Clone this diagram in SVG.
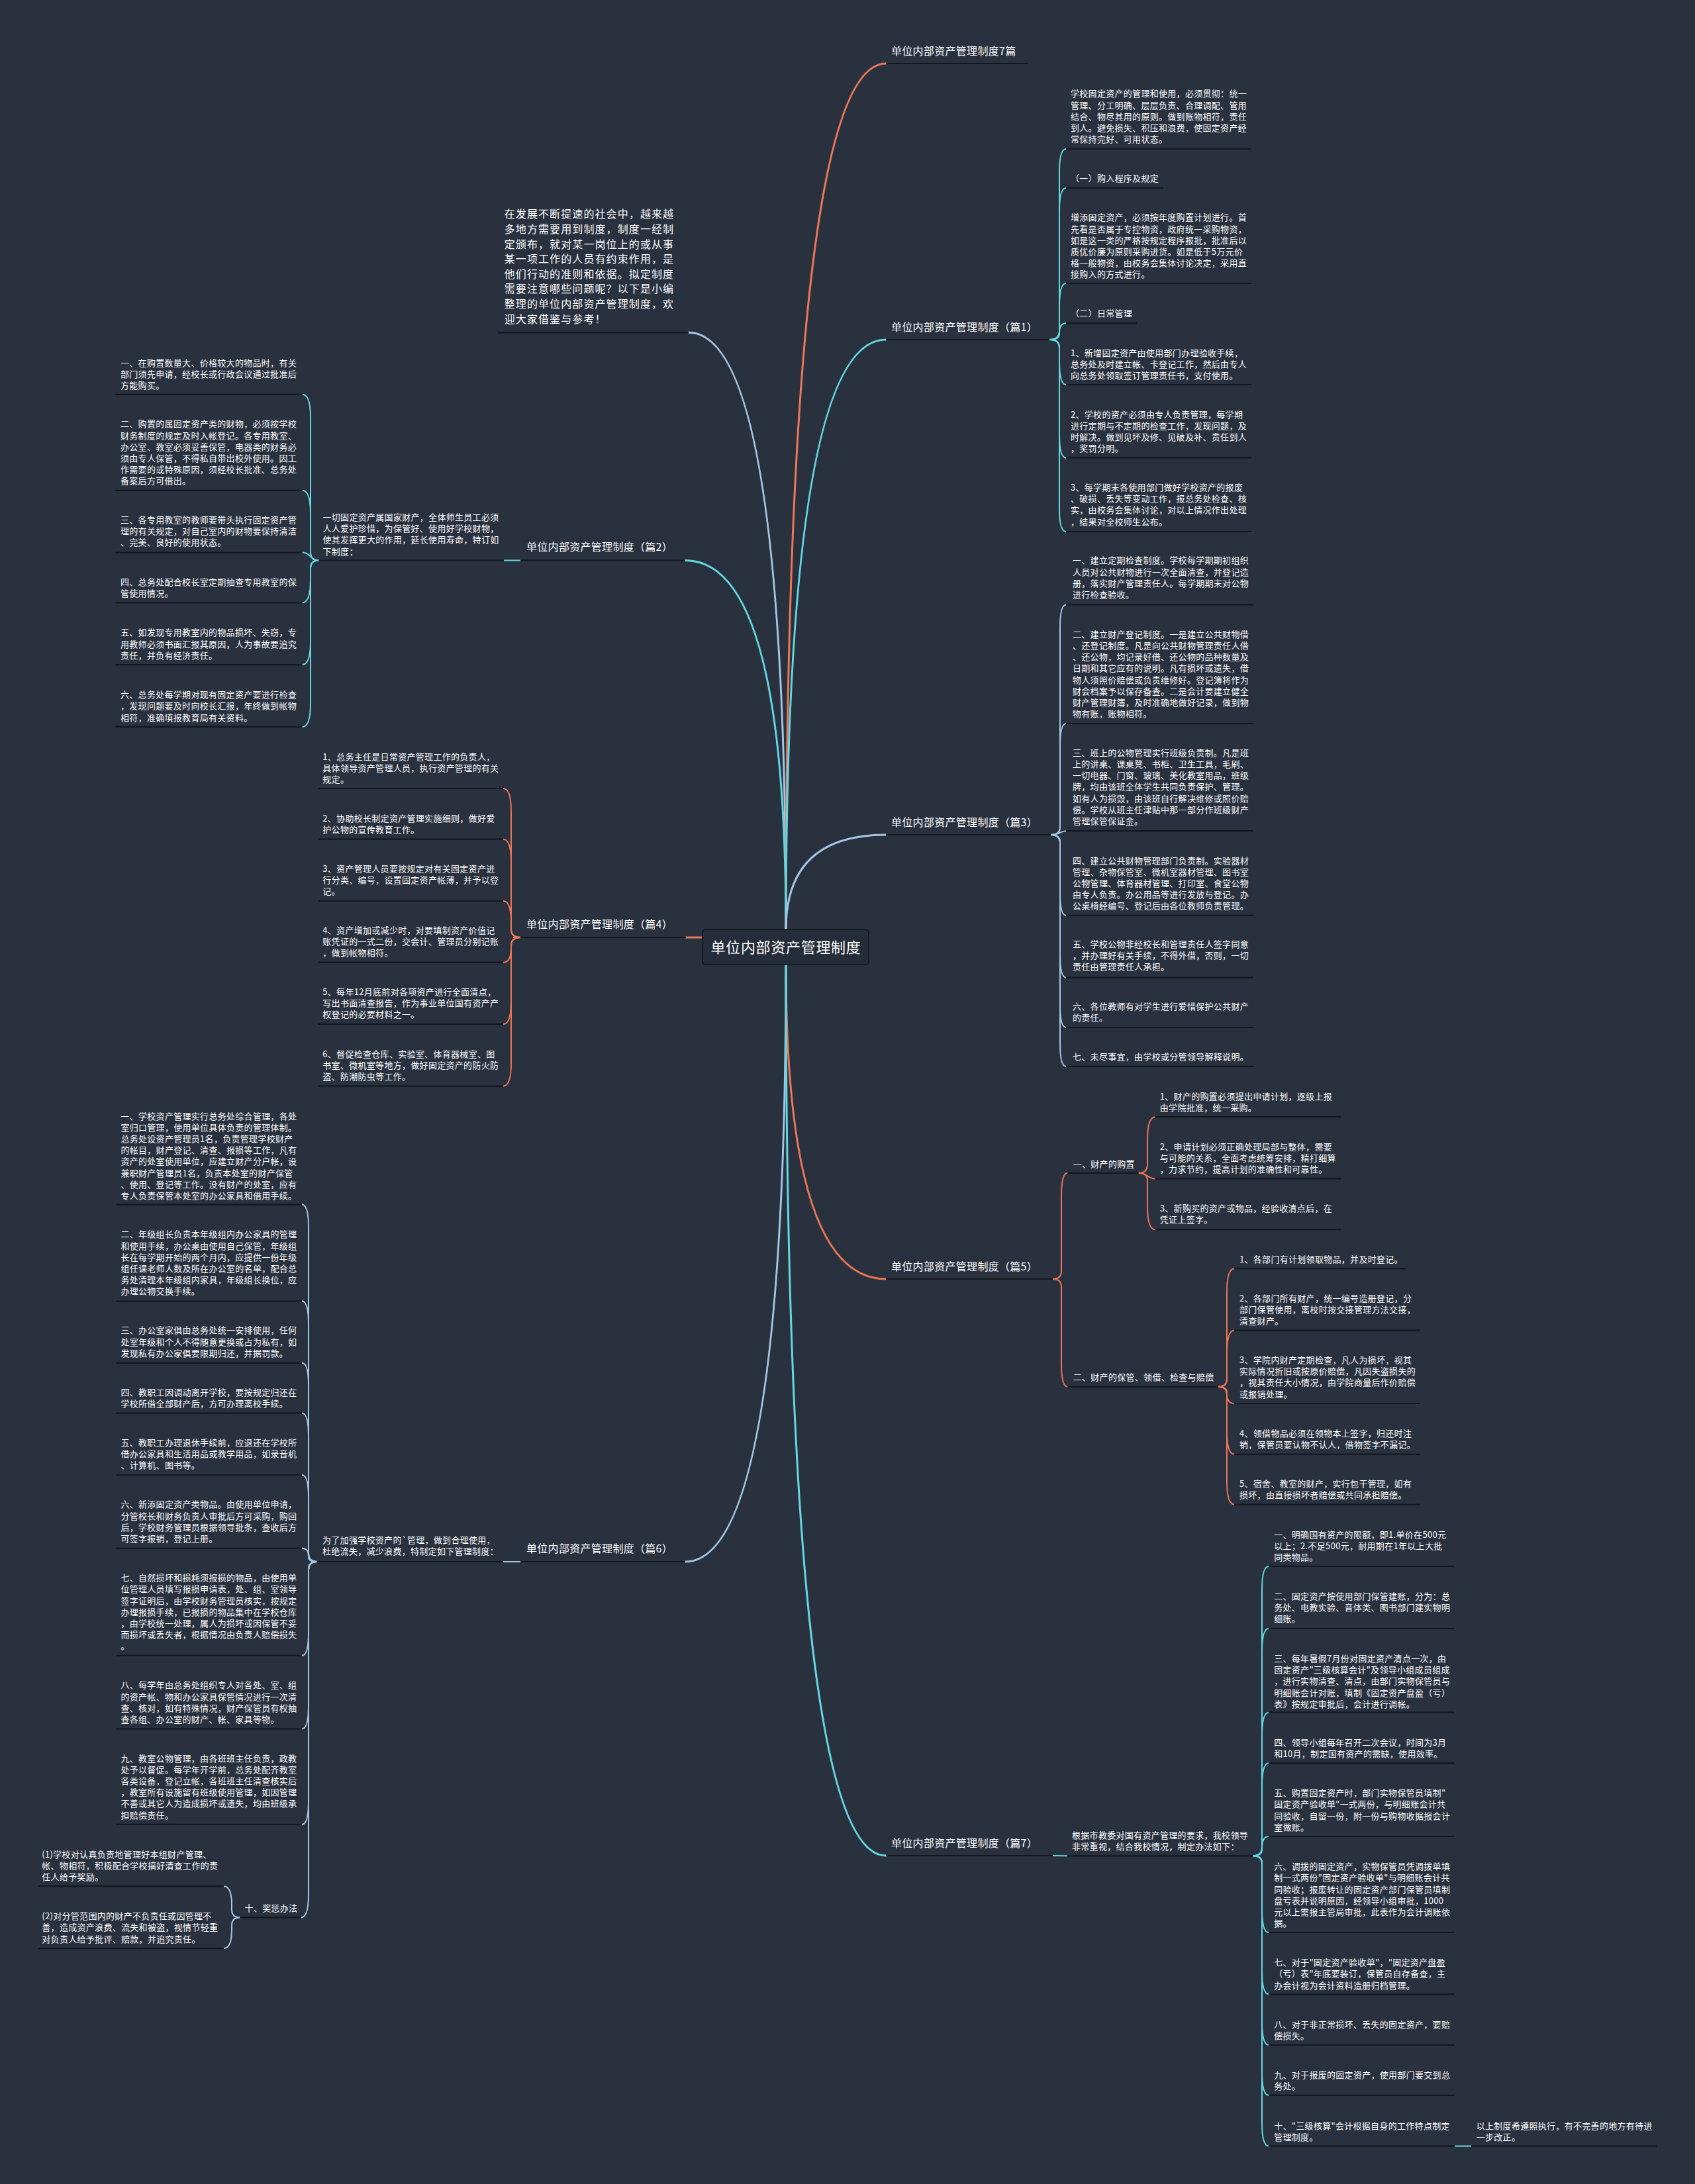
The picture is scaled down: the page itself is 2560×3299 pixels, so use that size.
<svg xmlns="http://www.w3.org/2000/svg" width="2560" height="3299" viewBox="0 0 2560 3299">
<style>
text{font-family:"Noto Sans CJK SC","Noto Sans",sans-serif;fill:#ffffff}
.t{font-size:13px;letter-spacing:0.3px}
.b{font-size:16px;letter-spacing:0.3px}
.i{font-size:16px;letter-spacing:1.1px}
.r{font-size:22px;letter-spacing:0.7px}
.ul{stroke:#14181e;stroke-width:2.2;fill:none}
.k{fill:none;stroke-width:2}
.m{fill:none;stroke-width:3;stroke-linecap:round}
.cc{stroke:#62d8e2}
.co{stroke:#ec7656}
.cb{stroke:#a3c6e6}
</style>
<rect x="0" y="0" width="2560" height="3299" fill="#29313f"/>

<g id="connectors">
<path class="m cb" d="M1040 502.3 Q1187 502.3 1187 1404"/>
<path class="m cc" d="M1035 846.5 Q1187 846.5 1187 1404"/>
<path class="m co" d="M1187 1404 Q1187 96 1338 96"/>
<path class="m cc" d="M1187 1404 Q1187 513 1338 513"/>
<path class="m cb" d="M1187 1404 Q1187 1261 1338 1261"/>
<path class="m co" d="M1036 1416 L1061 1416"/>
<path class="m co" d="M1187 1457 Q1187 1932 1338 1932"/>
<path class="m cb" d="M1035 2359 Q1187 2359 1187 1457"/>
<path class="m cc" d="M1187 1457 Q1187 2803 1338 2803"/>

<g class="k cc">
<path d="M1585 513 Q1600 513 1600 501 L1600 260 Q1600 225 1610 225"/>
<path d="M1585 513 Q1600 513 1600 501 L1600 319 Q1600 284 1610 284"/>
<path d="M1585 513 Q1600 513 1600 501 L1600 463 Q1600 428 1610 428"/>
<path d="M1585 513 Q1600 513 1600 504.8 L1600 503.1 Q1600 488.3 1610 488.3"/>
<path d="M1585 513 Q1600 513 1600 525 L1600 546 Q1600 581 1610 581"/>
<path d="M1585 513 Q1600 513 1600 525 L1600 656.4 Q1600 691.4 1610 691.4"/>
<path d="M1585 513 Q1600 513 1600 525 L1600 768 Q1600 803 1610 803"/>
</g>
<g class="k cb">
<path d="M1587 1261 Q1601 1261 1601 1249 L1601 948.4 Q1601 913.4 1610 913.4"/>
<path d="M1587 1261 Q1601 1261 1601 1249 L1601 1128 Q1601 1093 1610 1093"/>
<path d="M1587 1261 C1601 1261 1601 1255.2 1610 1255.2"/>
<path d="M1587 1261 Q1601 1261 1601 1273 L1601 1347.8 Q1601 1382.8 1610 1382.8"/>
<path d="M1587 1261 Q1601 1261 1601 1273 L1601 1441.6 Q1601 1476.6 1610 1476.6"/>
<path d="M1587 1261 Q1601 1261 1601 1273 L1601 1517 Q1601 1552 1610 1552"/>
<path d="M1587 1261 Q1601 1261 1601 1273 L1601 1575.8 Q1601 1610.8 1610 1610.8"/>
</g>
<g class="k co">
<path d="M1590 1932 Q1603 1932 1603 1920 L1603 1806.8 Q1603 1771.8 1612.5 1771.8"/>
<path d="M1590 1932 Q1603 1932 1603 1944 L1603 2059.8 Q1603 2094.8 1612.5 2094.8"/>
<path d="M1719.6 1771.8 Q1733 1771.8 1733 1759.8 L1733 1722.2 Q1733 1687.2 1744.6 1687.2"/>
<path d="M1719.6 1771.8 C1733 1771.8 1733 1780.4 1744.6 1780.4"/>
<path d="M1719.6 1771.8 Q1733 1771.8 1733 1783.8 L1733 1822.2 Q1733 1857.2 1744.6 1857.2"/>
<path d="M1840 2094.8 Q1853 2094.8 1853 2082.8 L1853 1951.2 Q1853 1916.2 1864.3 1916.2"/>
<path d="M1840 2094.8 Q1853 2094.8 1853 2082.8 L1853 2044.4 Q1853 2009.4 1864.3 2009.4"/>
<path d="M1840 2094.8 Q1853 2094.8 1853 2103.2 L1853 2104.9 Q1853 2120 1864.3 2120"/>
<path d="M1840 2094.8 Q1853 2094.8 1853 2106.8 L1853 2161.8 Q1853 2196.8 1864.3 2196.8"/>
<path d="M1840 2094.8 Q1853 2094.8 1853 2106.8 L1853 2237.6 Q1853 2272.6 1864.3 2272.6"/>
</g>
<g class="k cc">
<path d="M1590 2803 L1612 2803.3"/>
<path d="M1892.6 2803.3 Q1906 2803.3 1906 2791.3 L1906 2401 Q1906 2366 1916.3 2366"/>
<path d="M1892.6 2803.3 Q1906 2803.3 1906 2791.3 L1906 2495 Q1906 2460 1916.3 2460"/>
<path d="M1892.6 2803.3 Q1906 2803.3 1906 2791.3 L1906 2621.7 Q1906 2586.7 1916.3 2586.7"/>
<path d="M1892.6 2803.3 Q1906 2803.3 1906 2791.3 L1906 2698.3 Q1906 2663.3 1916.3 2663.3"/>
<path d="M1892.6 2803.3 Q1906 2803.3 1906 2793.5 L1906 2791.6 Q1906 2774 1916.3 2774"/>
<path d="M1892.6 2803.3 Q1906 2803.3 1906 2815.3 L1906 2884 Q1906 2919 1916.3 2919"/>
<path d="M1892.6 2803.3 Q1906 2803.3 1906 2815.3 L1906 2977.3 Q1906 3012.3 1916.3 3012.3"/>
<path d="M1892.6 2803.3 Q1906 2803.3 1906 2815.3 L1906 3054 Q1906 3089 1916.3 3089"/>
<path d="M1892.6 2803.3 Q1906 2803.3 1906 2815.3 L1906 3130 Q1906 3165 1916.3 3165"/>
<path d="M1892.6 2803.3 Q1906 2803.3 1906 2815.3 L1906 3206.7 Q1906 3241.7 1916.3 3241.7"/>
<path d="M2197 3241.7 L2222 3241.7"/>
</g>
<g class="k cc">
<path d="M786 846.5 L761 846.5"/>
<path d="M481.3 846.5 Q469 846.5 469 834.5 L469 630.8 Q469 595.8 456.4 595.8"/>
<path d="M481.3 846.5 Q469 846.5 469 834.5 L469 775.8 Q469 740.8 456.4 740.8"/>
<path d="M481.3 846.5 C469 846.5 469 834.6 456.4 834.6"/>
<path d="M481.3 846.5 Q469 846.5 469 858.5 L469 875.4 Q469 910.4 456.4 910.4"/>
<path d="M481.3 846.5 Q469 846.5 469 858.5 L469 969.1 Q469 1004.1 456.4 1004.1"/>
<path d="M481.3 846.5 Q469 846.5 469 858.5 L469 1062.9 Q469 1097.9 456.4 1097.9"/>
</g>
<g class="k co">
<path d="M786 1416 L775 1416"/>
<path d="M787 1416 Q772 1416 772 1404 L772 1226 Q772 1191 760 1191"/>
<path d="M787 1416 Q772 1416 772 1404 L772 1302.7 Q772 1267.7 760 1267.7"/>
<path d="M787 1416 Q772 1416 772 1404 L772 1394.3 Q772 1361 760 1361"/>
<path d="M787 1416 Q772 1416 772 1428 L772 1431.4 Q772 1453.7 760 1453.7"/>
<path d="M787 1416 Q772 1416 772 1428 L772 1512 Q772 1547 760 1547"/>
<path d="M787 1416 Q772 1416 772 1428 L772 1605.6 Q772 1640.6 760 1640.6"/>
</g>
<g class="k cb">
<path d="M786 2359 L759.8 2359"/>
<path d="M478.7 2359 Q466 2359 466 2347 L466 1854.6 Q466 1819.6 456 1819.6"/>
<path d="M478.7 2359 Q466 2359 466 2347 L466 2000.6 Q466 1965.6 456 1965.6"/>
<path d="M478.7 2359 Q466 2359 466 2347 L466 2093.8 Q466 2058.8 456 2058.8"/>
<path d="M478.7 2359 Q466 2359 466 2347 L466 2169.7 Q466 2134.7 456 2134.7"/>
<path d="M478.7 2359 Q466 2359 466 2347 L466 2263 Q466 2228 456 2228"/>
<path d="M478.7 2359 Q466 2359 466 2352.2 L466 2350.9 Q466 2338.7 456 2338.7"/>
<path d="M478.7 2359 Q466 2359 466 2371 L466 2465.8 Q466 2500.8 456 2500.8"/>
<path d="M478.7 2359 Q466 2359 466 2371 L466 2576.5 Q466 2611.5 456 2611.5"/>
<path d="M478.7 2359 Q466 2359 466 2371 L466 2720.8 Q466 2755.8 456 2755.8"/>
<path d="M478.7 2359 Q466 2359 466 2371 L466 2861.4 Q466 2896.4 454.4 2896.4"/>
<path d="M362.3 2896.4 Q350 2896.4 350 2884.4 L350 2877.5 Q350 2849.2 338 2849.2"/>
<path d="M362.3 2896.4 Q350 2896.4 350 2908.4 L350 2915.1 Q350 2943.1 338 2943.1"/>
</g>
</g>

<g id="root">
<rect x="1061" y="1404" width="251" height="53" rx="5" fill="#262d3a" stroke="#161a21" stroke-width="2"/>
<text class="r" x="1187" y="1439" text-anchor="middle">单位内部资产管理制度</text>
</g>

<g id="intro">
<text class="i"><tspan x="761.7" y="329.3">在发展不断提速的社会中，越来越</tspan><tspan x="761.7" y="351.9">多地方需要用到制度，制度一经制</tspan><tspan x="761.7" y="374.5">定颁布，就对某一岗位上的或从事</tspan><tspan x="761.7" y="397.1">某一项工作的人员有约束作用，是</tspan><tspan x="761.7" y="419.7">他们行动的准则和依据。拟定制度</tspan><tspan x="761.7" y="442.3">需要注意哪些问题呢？以下是小编</tspan><tspan x="761.7" y="464.9">整理的单位内部资产管理制度，欢</tspan><tspan x="761.7" y="487.5">迎大家借鉴与参考！</tspan></text>
<line class="ul" x1="751.7" y1="502.3" x2="1040" y2="502.3"/>
</g>

<g id="b7">
<text class="b" x="1346" y="83">单位内部资产管理制度7篇</text>
<line class="ul" x1="1338" y1="96" x2="1553" y2="96"/>
</g>

<g id="p1">
<text class="b" x="1346" y="500">单位内部资产管理制度（篇1）</text>
<line class="ul" x1="1338" y1="513" x2="1585" y2="513"/>
</g>
<g id="p1c1"><text class="t"><tspan x="1617" y="146.3">学校固定资产的管理和使用，必须贯彻：统一</tspan><tspan x="1617" y="163.5">管理、分工明确、层层负责、合理调配、管用</tspan><tspan x="1617" y="180.7">结合、物尽其用的原则。做到账物相符，责任</tspan><tspan x="1617" y="197.9">到人。避免损失、积压和浪费，使固定资产经</tspan><tspan x="1617" y="215.1">常保持完好、可用状态。</tspan></text><line class="ul" x1="1610" y1="225" x2="1890" y2="225"/></g>
<g id="p1c2"><text class="t" x="1617" y="273.6">（一）购入程序及规定</text><line class="ul" x1="1610" y1="284" x2="1757" y2="284"/></g>
<g id="p1c3"><text class="t"><tspan x="1617" y="333.4">增添固定资产，必须按年度购置计划进行。首</tspan><tspan x="1617" y="350.6">先看是否属于专控物资，政府统一采购物资，</tspan><tspan x="1617" y="367.8">如是这一类的严格按规定程序报批，批准后以</tspan><tspan x="1617" y="385">质优价廉为原则采购进货。如是低于5万元价</tspan><tspan x="1617" y="402.2">格一般物资，由校务会集体讨论决定，采用直</tspan><tspan x="1617" y="419.4">接购入的方式进行。</tspan></text><line class="ul" x1="1610" y1="428" x2="1890" y2="428"/></g>
<g id="p1c4"><text class="t" x="1617" y="477.6">（二）日常管理</text><line class="ul" x1="1610" y1="488.3" x2="1717" y2="488.3"/></g>
<g id="p1c5"><text class="t"><tspan x="1617" y="537.9">1、新增固定资产由使用部门办理验收手续，</tspan><tspan x="1617" y="555.1">总务处及时建立帐、卡登记工作，然后由专人</tspan><tspan x="1617" y="572.3">向总务处领取签订管理责任书，支付使用。</tspan></text><line class="ul" x1="1610" y1="581" x2="1890" y2="581"/></g>
<g id="p1c6"><text class="t"><tspan x="1617" y="630.7">2、学校的资产必须由专人负责管理，每学期</tspan><tspan x="1617" y="647.9">进行定期与不定期的检查工作，发现问题，及</tspan><tspan x="1617" y="665.1">时解决。做到见坏及修、见破及补、责任到人</tspan><tspan x="1617" y="682.3">，奖罚分明。</tspan></text><line class="ul" x1="1610" y1="691.4" x2="1890" y2="691.4"/></g>
<g id="p1c7"><text class="t"><tspan x="1617" y="740.9">3、每学期末各使用部门做好学校资产的报废</tspan><tspan x="1617" y="758.1">、破损、丢失等变动工作，报总务处检查、核</tspan><tspan x="1617" y="775.3">实，由校务会集体讨论，对以上情况作出处理</tspan><tspan x="1617" y="792.5">，结果对全校师生公布。</tspan></text><line class="ul" x1="1610" y1="803" x2="1890" y2="803"/></g>

<g id="p3">
<text class="b" x="1346" y="1248">单位内部资产管理制度（篇3）</text>
<line class="ul" x1="1338" y1="1261" x2="1587" y2="1261"/>
</g>
<g id="p3c1"><text class="t"><tspan x="1620" y="851.4">一、建立定期检查制度。学校每学期期初组织</tspan><tspan x="1620" y="868.6">人员对公共财物进行一次全面清查，并登记造</tspan><tspan x="1620" y="885.8">册，落实财产管理责任人。每学期期末对公物</tspan><tspan x="1620" y="903">进行检查验收。</tspan></text><line class="ul" x1="1610" y1="913.4" x2="1893" y2="913.4"/></g>
<g id="p3c2"><text class="t"><tspan x="1620" y="962.7">二、建立财产登记制度。一是建立公共财物借</tspan><tspan x="1620" y="979.9">、还登记制度。凡是向公共财物管理责任人借</tspan><tspan x="1620" y="997.1">、还公物，均记录好借、还公物的品种数量及</tspan><tspan x="1620" y="1014.3">日期和其它应有的说明。凡有损坏或遗失，借</tspan><tspan x="1620" y="1031.5">物人须照价赔偿或负责维修好。登记簿将作为</tspan><tspan x="1620" y="1048.7">财会档案予以保存备查。二是会计要建立健全</tspan><tspan x="1620" y="1065.9">财产管理财簿，及时准确地做好记录，做到物</tspan><tspan x="1620" y="1083.1">物有账，账物相符。</tspan></text><line class="ul" x1="1610" y1="1093" x2="1893" y2="1093"/></g>
<g id="p3c3"><text class="t"><tspan x="1620" y="1141.7">三、班上的公物管理实行班级负责制。凡是班</tspan><tspan x="1620" y="1158.9">上的讲桌、课桌凳、书柜、卫生工具，毛刷、</tspan><tspan x="1620" y="1176.1">一切电器、门窗、玻璃、美化教室用品，班级</tspan><tspan x="1620" y="1193.3">牌，均由该班全体学生共同负责保护、管理。</tspan><tspan x="1620" y="1210.5">如有人为损毁，由该班自行解决维修或照价赔</tspan><tspan x="1620" y="1227.7">偿。学校从班主任津贴中那一部分作班级财产</tspan><tspan x="1620" y="1244.9">管理保管保证金。</tspan></text><line class="ul" x1="1610" y1="1255.2" x2="1893" y2="1255.2"/></g>
<g id="p3c4"><text class="t"><tspan x="1620" y="1304.5">四、建立公共财物管理部门负责制。实验器材</tspan><tspan x="1620" y="1321.7">管理、杂物保管室、微机室器材管理、图书室</tspan><tspan x="1620" y="1338.9">公物管理、体育器材管理、打印室、食堂公物</tspan><tspan x="1620" y="1356.1">由专人负责。办公用品等进行发放与登记。办</tspan><tspan x="1620" y="1373.3">公桌椅经编号、登记后由各位教师负责管理。</tspan></text><line class="ul" x1="1610" y1="1382.8" x2="1893" y2="1382.8"/></g>
<g id="p3c5"><text class="t"><tspan x="1620" y="1430.9">五、学校公物非经校长和管理责任人签字同意</tspan><tspan x="1620" y="1448.1">，并办理好有关手续，不得外借，否则，一切</tspan><tspan x="1620" y="1465.3">责任由管理责任人承担。</tspan></text><line class="ul" x1="1610" y1="1476.6" x2="1893" y2="1476.6"/></g>
<g id="p3c6"><text class="t"><tspan x="1620" y="1524.9">六、各位教师有对学生进行爱惜保护公共财产</tspan><tspan x="1620" y="1542.1">的责任。</tspan></text><line class="ul" x1="1610" y1="1552" x2="1893" y2="1552"/></g>
<g id="p3c7"><text class="t" x="1620" y="1601.4">七、未尽事宜，由学校或分管领导解释说明。</text><line class="ul" x1="1610" y1="1610.8" x2="1893" y2="1610.8"/></g>

<g id="p5">
<text class="b" x="1346" y="1919">单位内部资产管理制度（篇5）</text>
<line class="ul" x1="1338" y1="1932" x2="1590" y2="1932"/>
</g>
<g id="p5e1"><text class="t" x="1620.7" y="1762.8">一、财产的购置</text><line class="ul" x1="1612.5" y1="1771.8" x2="1719.6" y2="1771.8"/></g>
<g id="p5e1a"><text class="t"><tspan x="1751.8" y="1660.9">1、财产的购置必须提出申请计划，逐级上报</tspan><tspan x="1751.8" y="1678.1">由学院批准，统一采购。</tspan></text><line class="ul" x1="1744.6" y1="1687.2" x2="2025" y2="1687.2"/></g>
<g id="p5e1b"><text class="t"><tspan x="1751.8" y="1736.8">2、申请计划必须正确处理局部与整体，需要</tspan><tspan x="1751.8" y="1754">与可能的关系，全面考虑统筹安排，精打细算</tspan><tspan x="1751.8" y="1771.2">，力求节约，提高计划的准确性和可靠性。</tspan></text><line class="ul" x1="1744.6" y1="1780.4" x2="2025" y2="1780.4"/></g>
<g id="p5e1c"><text class="t"><tspan x="1751.8" y="1830">3、新购买的资产或物品，经验收清点后，在</tspan><tspan x="1751.8" y="1847.2">凭证上签字。</tspan></text><line class="ul" x1="1744.6" y1="1857.2" x2="2025" y2="1857.2"/></g>
<g id="p5e2"><text class="t" x="1620.7" y="2084.6">二、财产的保管、领借、检查与赔偿</text><line class="ul" x1="1612.5" y1="2094.8" x2="1840" y2="2094.8"/></g>
<g id="p5e2a"><text class="t" x="1872" y="1906.8">1、各部门有计划领取物品，并及时登记。</text><line class="ul" x1="1864.3" y1="1916.2" x2="2123" y2="1916.2"/></g>
<g id="p5e2b"><text class="t"><tspan x="1872" y="1965.8">2、各部门所有财产，统一编号造册登记，分</tspan><tspan x="1872" y="1983">部门保管使用，离校时按交接管理方法交接，</tspan><tspan x="1872" y="2000.2">清查财产。</tspan></text><line class="ul" x1="1864.3" y1="2009.4" x2="2144.6" y2="2009.4"/></g>
<g id="p5e2c"><text class="t"><tspan x="1872" y="2058.9">3、学院内财产定期检查，凡人为损坏，视其</tspan><tspan x="1872" y="2076.1">实际情况折旧或按原价赔偿，凡因失盗损失的</tspan><tspan x="1872" y="2093.3">，视其责任大小情况，由学院商量后作价赔偿</tspan><tspan x="1872" y="2110.5">或报销处理。</tspan></text><line class="ul" x1="1864.3" y1="2120" x2="2144.6" y2="2120"/></g>
<g id="p5e2d"><text class="t"><tspan x="1872" y="2170">4、领借物品必须在领物本上签字，归还时注</tspan><tspan x="1872" y="2187.2">销，保管员要认物不认人，借物签字不漏记。</tspan></text><line class="ul" x1="1864.3" y1="2196.8" x2="2144.6" y2="2196.8"/></g>
<g id="p5e2e"><text class="t"><tspan x="1872" y="2245.9">5、宿舍、教室的财产，实行包干管理，如有</tspan><tspan x="1872" y="2263.1">损坏，由直接损坏者赔偿或共同承担赔偿。</tspan></text><line class="ul" x1="1864.3" y1="2272.6" x2="2144.6" y2="2272.6"/></g>

<g id="p7">
<text class="b" x="1346" y="2790">单位内部资产管理制度（篇7）</text>
<line class="ul" x1="1338" y1="2803" x2="1590" y2="2803"/>
</g>
<g id="p7f0"><text class="t"><tspan x="1619" y="2777.2">根据市教委对国有资产管理的要求，我校领导</tspan><tspan x="1619" y="2794.4">非常重视，结合我校情况，制定办法如下：</tspan></text><line class="ul" x1="1612" y1="2803.3" x2="1892.6" y2="2803.3"/></g>
<g id="p7f1"><text class="t"><tspan x="1924.2" y="2322.6">一、明确国有资产的限额，即1.单价在500元</tspan><tspan x="1924.2" y="2339.8">以上；2.不足500元，耐用期在1年以上大批</tspan><tspan x="1924.2" y="2357">同类物品。</tspan></text><line class="ul" x1="1916.3" y1="2366" x2="2197" y2="2366"/></g>
<g id="p7f2"><text class="t"><tspan x="1924.2" y="2415.9">二、固定资产按使用部门保管建账，分为：总</tspan><tspan x="1924.2" y="2433.1">务处、电教实验、音体类、图书部门建实物明</tspan><tspan x="1924.2" y="2450.3">细账。</tspan></text><line class="ul" x1="1916.3" y1="2460" x2="2197" y2="2460"/></g>
<g id="p7f3"><text class="t"><tspan x="1924.2" y="2509.9">三、每年暑假7月份对固定资产清点一次，由</tspan><tspan x="1924.2" y="2527.1">固定资产"三级核算会计"及领导小组成员组成</tspan><tspan x="1924.2" y="2544.3">，进行实物清查、清点，由部门实物保管员与</tspan><tspan x="1924.2" y="2561.5">明细账会计对账，填制《固定资产盘盈（亏）</tspan><tspan x="1924.2" y="2578.7">表》按规定审批后，会计进行调帐。</tspan></text><line class="ul" x1="1916.3" y1="2586.7" x2="2197" y2="2586.7"/></g>
<g id="p7f4"><text class="t"><tspan x="1924.2" y="2636.6">四、领导小组每年召开二次会议，时间为3月</tspan><tspan x="1924.2" y="2653.8">和10月，制定国有资产的需缺，使用效率。</tspan></text><line class="ul" x1="1916.3" y1="2663.3" x2="2197" y2="2663.3"/></g>
<g id="p7f5"><text class="t"><tspan x="1924.2" y="2713.2">五、购置固定资产时，部门实物保管员填制"</tspan><tspan x="1924.2" y="2730.4">固定资产验收单"一式两份，与明细账会计共</tspan><tspan x="1924.2" y="2747.6">同验收，自留一份，附一份与购物收据报会计</tspan><tspan x="1924.2" y="2764.8">室做账。</tspan></text><line class="ul" x1="1916.3" y1="2774" x2="2197" y2="2774"/></g>
<g id="p7f6"><text class="t"><tspan x="1924.2" y="2824.2">六、调拨的固定资产，实物保管员凭调拨单填</tspan><tspan x="1924.2" y="2841.4">制一式两份"固定资产验收单"与明细账会计共</tspan><tspan x="1924.2" y="2858.6">同验收；报废转让的固定资产部门保管员填制</tspan><tspan x="1924.2" y="2875.8">盘亏表并说明原因，经领导小组审批，1000</tspan><tspan x="1924.2" y="2893">元以上需报主管局审批，此表作为会计调账依</tspan><tspan x="1924.2" y="2910.2">据。</tspan></text><line class="ul" x1="1916.3" y1="2919" x2="2197" y2="2919"/></g>
<g id="p7f7"><text class="t"><tspan x="1924.2" y="2969.2">七、对于"固定资产验收单"，"固定资产盘盈</tspan><tspan x="1924.2" y="2986.4">（亏）表"年底要装订，保管员自存备查，主</tspan><tspan x="1924.2" y="3003.6">办会计视为会计资料造册归档管理。</tspan></text><line class="ul" x1="1916.3" y1="3012.3" x2="2197" y2="3012.3"/></g>
<g id="p7f8"><text class="t"><tspan x="1924.2" y="3062.6">八、对于非正常损坏、丢失的固定资产，要赔</tspan><tspan x="1924.2" y="3079.8">偿损失。</tspan></text><line class="ul" x1="1916.3" y1="3089" x2="2197" y2="3089"/></g>
<g id="p7f9"><text class="t"><tspan x="1924.2" y="3139.2">九、对于报废的固定资产，使用部门要交到总</tspan><tspan x="1924.2" y="3156.4">务处。</tspan></text><line class="ul" x1="1916.3" y1="3165" x2="2197" y2="3165"/></g>
<g id="p7f10"><text class="t"><tspan x="1924.2" y="3215.6">十、"三级核算"会计根据自身的工作特点制定</tspan><tspan x="1924.2" y="3232.8">管理制度。</tspan></text><line class="ul" x1="1916.3" y1="3241.7" x2="2197" y2="3241.7"/></g>
<g id="p7f10a"><text class="t"><tspan x="2229.7" y="3215.6">以上制度希遵照执行，有不完善的地方有待进</tspan><tspan x="2229.7" y="3232.8">一步改正。</tspan></text><line class="ul" x1="2222" y1="3241.7" x2="2502.6" y2="3241.7"/></g>

<g id="p2">
<text class="b" x="795" y="832">单位内部资产管理制度（篇2）</text>
<line class="ul" x1="786" y1="846.5" x2="1035" y2="846.5"/>
</g>
<g id="p2g0"><text class="t"><tspan x="487.5" y="785.9">一切固定资产属国家财产，全体师生员工必须</tspan><tspan x="487.5" y="803.1">人人爱护珍惜，为保管好、使用好学校财物，</tspan><tspan x="487.5" y="820.3">使其发挥更大的作用，延长使用寿命，特订如</tspan><tspan x="487.5" y="837.5">下制度：</tspan></text><line class="ul" x1="481.3" y1="846.5" x2="761" y2="846.5"/></g>
<g id="p2g1"><text class="t"><tspan x="182" y="552.5">一、在购置数量大、价格较大的物品时，有关</tspan><tspan x="182" y="569.7">部门须先申请，经校长或行政会议通过批准后</tspan><tspan x="182" y="586.9">方能购买。</tspan></text><line class="ul" x1="174.5" y1="595.8" x2="456.4" y2="595.8"/></g>
<g id="p2g2"><text class="t"><tspan x="182" y="645.4">二、购置的属固定资产类的财物，必须按学校</tspan><tspan x="182" y="662.6">财务制度的规定及时入帐登记。各专用教室、</tspan><tspan x="182" y="679.8">办公室、教室必须妥善保管，电器类的财务必</tspan><tspan x="182" y="697">须由专人保管，不得私自带出校外使用。因工</tspan><tspan x="182" y="714.2">作需要的或特殊原因，须经校长批准、总务处</tspan><tspan x="182" y="731.4">备案后方可借出。</tspan></text><line class="ul" x1="174.5" y1="740.8" x2="456.4" y2="740.8"/></g>
<g id="p2g3"><text class="t"><tspan x="182" y="789.7">三、各专用教室的教师要带头执行固定资产管</tspan><tspan x="182" y="806.9">理的有关规定，对自己室内的财物要保持清洁</tspan><tspan x="182" y="824.1">、完美、良好的使用状态。</tspan></text><line class="ul" x1="174.5" y1="834.6" x2="456.4" y2="834.6"/></g>
<g id="p2g4"><text class="t"><tspan x="182" y="883.9">四、总务处配合校长室定期抽查专用教室的保</tspan><tspan x="182" y="901.1">管使用情况。</tspan></text><line class="ul" x1="174.5" y1="910.4" x2="456.4" y2="910.4"/></g>
<g id="p2g5"><text class="t"><tspan x="182" y="960.4">五、如发现专用教室内的物品损坏、失窃，专</tspan><tspan x="182" y="977.6">用教师必须书面汇报其原因，人为事故要追究</tspan><tspan x="182" y="994.8">责任，并负有经济责任。</tspan></text><line class="ul" x1="174.5" y1="1004.1" x2="456.4" y2="1004.1"/></g>
<g id="p2g6"><text class="t"><tspan x="182" y="1054.2">六、总务处每学期对现有固定资产要进行检查</tspan><tspan x="182" y="1071.4">，发现问题要及时向校长汇报，年终做到帐物</tspan><tspan x="182" y="1088.6">相符，准确填报教育局有关资料。</tspan></text><line class="ul" x1="174.5" y1="1097.9" x2="456.4" y2="1097.9"/></g>

<g id="p4">
<text class="b" x="795" y="1401.5">单位内部资产管理制度（篇4）</text>
<line class="ul" x1="786" y1="1416" x2="1036" y2="1416"/>
</g>
<g id="p4h1"><text class="t"><tspan x="487.3" y="1147.9">1、总务主任是日常资产管理工作的负责人，</tspan><tspan x="487.3" y="1165.1">具体领导资产管理人员，执行资产管理的有关</tspan><tspan x="487.3" y="1182.3">规定。</tspan></text><line class="ul" x1="480" y1="1191" x2="760" y2="1191"/></g>
<g id="p4h2"><text class="t"><tspan x="487.3" y="1240.9">2、协助校长制定资产管理实施细则，做好爱</tspan><tspan x="487.3" y="1258.1">护公物的宣传教育工作。</tspan></text><line class="ul" x1="480" y1="1267.7" x2="760" y2="1267.7"/></g>
<g id="p4h3"><text class="t"><tspan x="487.3" y="1316.9">3、资产管理人员要按规定对有关固定资产进</tspan><tspan x="487.3" y="1334.1">行分类、编号，设置固定资产帐薄，并予以登</tspan><tspan x="487.3" y="1351.3">记。</tspan></text><line class="ul" x1="480" y1="1361" x2="760" y2="1361"/></g>
<g id="p4h4"><text class="t"><tspan x="487.3" y="1409.9">4、资产增加或减少时，对要填制资产价值记</tspan><tspan x="487.3" y="1427.1">账凭证的一式二份，交会计、管理员分别记账</tspan><tspan x="487.3" y="1444.3">，做到帐物相符。</tspan></text><line class="ul" x1="480" y1="1453.7" x2="760" y2="1453.7"/></g>
<g id="p4h5"><text class="t"><tspan x="487.3" y="1502.9">5、每年12月底前对各项资产进行全面清点，</tspan><tspan x="487.3" y="1520.1">写出书面清查报告，作为事业单位国有资产产</tspan><tspan x="487.3" y="1537.3">权登记的必要材料之一。</tspan></text><line class="ul" x1="480" y1="1547" x2="760" y2="1547"/></g>
<g id="p4h6"><text class="t"><tspan x="487.3" y="1596.5">6、督促检查仓库、实验室、体育器械室、图</tspan><tspan x="487.3" y="1613.7">书室、微机室等地方，做好固定资产的防火防</tspan><tspan x="487.3" y="1630.9">盗、防潮防虫等工作。</tspan></text><line class="ul" x1="480" y1="1640.6" x2="760" y2="1640.6"/></g>

<g id="p6">
<text class="b" x="795" y="2345">单位内部资产管理制度（篇6）</text>
<line class="ul" x1="786" y1="2359" x2="1035" y2="2359"/>
</g>
<g id="p6j0"><text class="t"><tspan x="487" y="2330.9">为了加强学校资产的`管理，做到合理使用，</tspan><tspan x="487" y="2348.1">杜绝流失，减少浪费，特制定如下管理制度：</tspan></text><line class="ul" x1="478.7" y1="2359" x2="759.8" y2="2359"/></g>
<g id="p6j1"><text class="t"><tspan x="182.4" y="1690.6">一、学校资产管理实行总务处综合管理，各处</tspan><tspan x="182.4" y="1707.8">室归口管理，使用单位具体负责的管理体制。</tspan><tspan x="182.4" y="1725">总务处设资产管理员1名，负责管理学校财产</tspan><tspan x="182.4" y="1742.2">的帐目，财产登记、清查、报损等工作，凡有</tspan><tspan x="182.4" y="1759.4">资产的处室使用单位，应建立财产分户帐，设</tspan><tspan x="182.4" y="1776.6">兼职财产管理员1名，负责本处室的财产保管</tspan><tspan x="182.4" y="1793.8">、使用、登记等工作。没有财产的处室，应有</tspan><tspan x="182.4" y="1811">专人负责保管本处室的办公家具和借用手续。</tspan></text><line class="ul" x1="175.5" y1="1819.6" x2="456" y2="1819.6"/></g>
<g id="p6j2"><text class="t"><tspan x="182.4" y="1869.3">二、年级组长负责本年级组内办公家具的管理</tspan><tspan x="182.4" y="1886.5">和使用手续，办公桌由使用自己保管，年级组</tspan><tspan x="182.4" y="1903.7">长在每学期开始的两个月内，应提供一份年级</tspan><tspan x="182.4" y="1920.9">组任课老师人数及所在办公室的名单，配合总</tspan><tspan x="182.4" y="1938.1">务处清理本年级组内家具，年级组长换位，应</tspan><tspan x="182.4" y="1955.3">办理公物交换手续。</tspan></text><line class="ul" x1="175.5" y1="1965.6" x2="456" y2="1965.6"/></g>
<g id="p6j3"><text class="t"><tspan x="182.4" y="2014.4">三、办公室家俱由总务处统一安排使用，任何</tspan><tspan x="182.4" y="2031.6">处室年级和个人不得随意更换或占为私有，如</tspan><tspan x="182.4" y="2048.8">发现私有办公家俱要限期归还，并据罚款。</tspan></text><line class="ul" x1="175.5" y1="2058.8" x2="456" y2="2058.8"/></g>
<g id="p6j4"><text class="t"><tspan x="182.4" y="2107.7">四、教职工因调动离开学校，要按规定归还在</tspan><tspan x="182.4" y="2124.9">学校所借全部财产后，方可办理离校手续。</tspan></text><line class="ul" x1="175.5" y1="2134.7" x2="456" y2="2134.7"/></g>
<g id="p6j5"><text class="t"><tspan x="182.4" y="2183.9">五、教职工办理退休手续前，应退还在学校所</tspan><tspan x="182.4" y="2201.1">借办公家具和生活用品或教学用品，如录音机</tspan><tspan x="182.4" y="2218.3">、计算机、图书等。</tspan></text><line class="ul" x1="175.5" y1="2228" x2="456" y2="2228"/></g>
<g id="p6j6"><text class="t"><tspan x="182.4" y="2277.3">六、新添固定资产类物品。由使用单位申请，</tspan><tspan x="182.4" y="2294.5">分管校长和财务负责人审批后方可采购，购回</tspan><tspan x="182.4" y="2311.7">后，学校财务管理员根据领导批条，查收后方</tspan><tspan x="182.4" y="2328.9">可签字报销，登记上册。</tspan></text><line class="ul" x1="175.5" y1="2338.7" x2="456" y2="2338.7"/></g>
<g id="p6j7"><text class="t"><tspan x="182.4" y="2388.2">七、自然损坏和损耗须报损的物品，由使用单</tspan><tspan x="182.4" y="2405.4">位管理人员填写报损申请表，处、组、室领导</tspan><tspan x="182.4" y="2422.6">签字证明后，由学校财务管理员核实，按规定</tspan><tspan x="182.4" y="2439.8">办理报损手续，已报损的物品集中在学校仓库</tspan><tspan x="182.4" y="2457">，由学校统一处理，属人为损坏或因保管不妥</tspan><tspan x="182.4" y="2474.2">而损坏或丢失者，根据情况由负责人赔偿损失</tspan><tspan x="182.4" y="2491.4">。</tspan></text><line class="ul" x1="175.5" y1="2500.8" x2="456" y2="2500.8"/></g>
<g id="p6j8"><text class="t"><tspan x="182.4" y="2550.3">八、每学年由总务处组织专人对各处、室、组</tspan><tspan x="182.4" y="2567.5">的资产帐、物和办公家具保管情况进行一次清</tspan><tspan x="182.4" y="2584.7">查、核对，如有特殊情况，财产保管员有权抽</tspan><tspan x="182.4" y="2601.9">查各组、办公室的财产、帐、家具等物。</tspan></text><line class="ul" x1="175.5" y1="2611.5" x2="456" y2="2611.5"/></g>
<g id="p6j9"><text class="t"><tspan x="182.4" y="2660.5">九、教室公物管理，由各班班主任负责，政教</tspan><tspan x="182.4" y="2677.7">处予以督促。每学年开学前，总务处配齐教室</tspan><tspan x="182.4" y="2694.9">各类设备，登记立帐，各班班主任清查核实后</tspan><tspan x="182.4" y="2712.1">，教室所有设施留有班级使用管理，如因管理</tspan><tspan x="182.4" y="2729.3">不善或其它人为造成损坏或遗失，均由班级承</tspan><tspan x="182.4" y="2746.5">担赔偿责任。</tspan></text><line class="ul" x1="175.5" y1="2755.8" x2="456" y2="2755.8"/></g>
<g id="p6j10"><text class="t" x="369.6" y="2886.9">十、奖惩办法</text><line class="ul" x1="362.3" y1="2896.4" x2="454.4" y2="2896.4"/></g>
<g id="p6j10a"><text class="t"><tspan x="63.3" y="2805.7">(1)学校对认真负责地管理好本组财产管理、</tspan><tspan x="63.3" y="2822.9">帐、物相符，积极配合学校搞好清查工作的责</tspan><tspan x="63.3" y="2840.1">任人给予奖励。</tspan></text><line class="ul" x1="57" y1="2849.2" x2="338" y2="2849.2"/></g>
<g id="p6j10b"><text class="t"><tspan x="63.3" y="2899.2">(2)对分管范围内的财产不负责任或因管理不</tspan><tspan x="63.3" y="2916.4">善，造成资产浪费、流失和被盗，视情节轻重</tspan><tspan x="63.3" y="2933.6">对负责人给予批评、赔款，并追究责任。</tspan></text><line class="ul" x1="57" y1="2943.1" x2="338" y2="2943.1"/></g>
</svg>
